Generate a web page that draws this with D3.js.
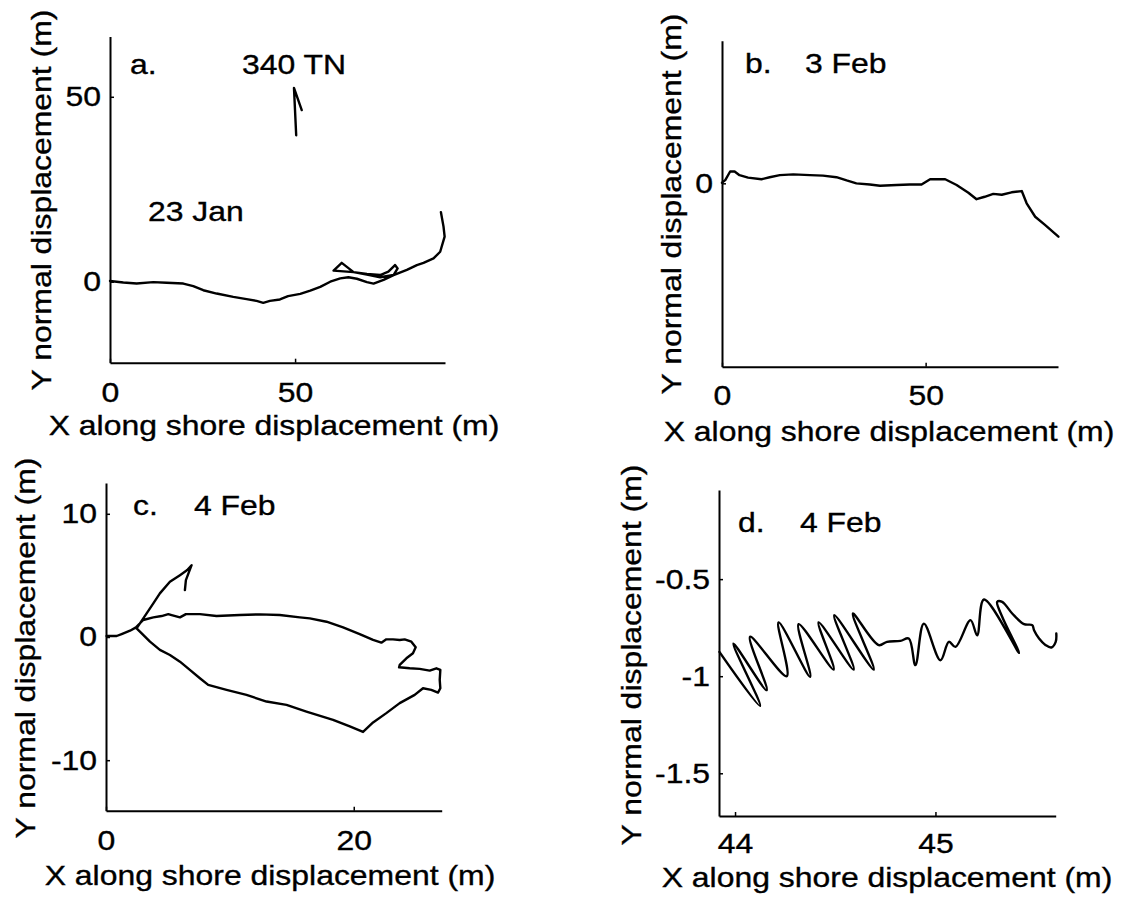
<!DOCTYPE html>
<html>
<head>
<meta charset="utf-8">
<script src="https://cdn.jsdelivr.net/npm/d3@7"></script>
<style>
  html, body { margin: 0; padding: 0; background: #fff; }
  svg { display: block; }
  text { font-family: "Liberation Sans", Arial, Helvetica, sans-serif; font-size: 28px; fill: #000;
         stroke: #000; stroke-width: 0.35px; }
</style>
</head>
<body>
<svg id="fig" width="1128" height="897"></svg>
<script>
// ---- Panel a: 23 Jan drifter track (m) ----
const aX = [0,3.6,7.2,11.7,15.3,19.8,22.5,25.2,28.8,33.3,36.9,39.6,41.4,43.2,45.9,48.1,51.4,54.1,56.8,59.5,
            62.2,64.4,66.7,69.4,71.2,73.9,76.6,77.7,77.0,75.2,73.0,69.4,65.8,62.6,60.4,65.8,69.4,73.0,76.6,80.2,
            82.9,84.7,87.4,89.2,90.4,90.1,89.4];
const aY = [0.2,-0.2,-0.5,-0.1,-0.3,-0.5,-1.2,-2.3,-3.2,-4.1,-4.7,-5.2,-5.7,-5.2,-4.8,-3.9,-3.3,-2.4,-1.4,0,
            0.9,1.2,0.8,-0.1,-0.5,0.5,1.8,3.6,4.5,2.7,1.8,2.1,2.6,5.1,3.0,2.6,1.9,1.2,1.8,3.2,
            4.5,5.1,6.3,8.1,12.2,14.9,18.8];
// north arrow (340 TN)
const arrowX = [50.3, 49.7, 51.8];
const arrowY = [39.6, 52.4, 46.4];

// ---- Panel b: 3 Feb ----
const bX = [0,0.8,2.0,3.1,4.3,6.4,9.7,11.7,14.2,17.5,21.6,24.8,28.1,30.6,33.0,36.3,38.8,42.9,46.1,49.0,
            51.1,54.8,57.6,60.5,62.5,64.5,66.6,68.7,71.1,73.6,74.8,76.9,79.3,82.6];
const bY = [0.16,0.8,2.9,2.9,2.0,1.4,1.0,1.5,2.0,2.2,2.0,1.9,1.5,0.7,0,-0.3,-0.6,-0.4,-0.3,-0.3,
            1.0,1.0,-0.4,-2.3,-3.9,-3.3,-2.6,-2.8,-2.2,-1.9,-4.9,-8.2,-10.2,-13.1];

// ---- Panel c: 4 Feb ----
const cX = [0.05,0.86,1.26,1.94,2.42,
            3.0,3.82,4.49,5.03,5.3,5.97,6.45,7.58,8.92,10.8,12.42,14.03,15.65,16.45,17.8,19.14,20.48,21.56,22.23,22.63,
            23.17,23.71,24.11,24.65,25.0,24.78,24.25,23.71,23.66,24.52,25.32,26.13,26.67,26.99,26.94,26.99,26.8,26.26,25.59,24.92,
            23.71,22.63,21.56,20.75,19.68,18.33,16.18,14.57,12.96,11.34,9.73,8.25,7.58,6.77,5.97,5.16,4.35,3.55,2.88,2.47,
            3.28,3.82,4.35,5.16,5.97,6.56,6.91,6.45,6.37];
const cY = [0.08,0.08,0.24,0.51,0.78,
            1.38,1.59,1.70,1.86,1.78,1.59,1.86,1.86,1.70,1.78,1.84,1.78,1.59,1.51,1.24,0.78,0.24,-0.24,-0.46,-0.19,
            -0.19,-0.24,-0.19,-0.38,-0.84,-1.32,-1.73,-2.27,-2.46,-2.54,-2.59,-2.73,-2.54,-2.67,-3.48,-4.16,-4.51,-4.29,-4.16,-4.70,
            -5.37,-6.18,-6.94,-7.71,-7.26,-6.72,-6.05,-5.51,-5.24,-4.70,-4.29,-3.89,-3.35,-2.67,-2.0,-1.46,-1.05,-0.38,0.30,0.70,
            1.92,2.73,3.54,4.48,5.02,5.43,5.83,4.62,3.81];

// ---- Panel d: 4 Feb, detail ----
const dX = [43.922,44.125,43.992,44.158,44.075,44.258,44.217,44.375,44.317,44.492,44.417,44.592,44.495,44.692,44.588,
            44.717,44.758,44.825,44.867,44.900,44.942,45.025,45.067,45.100,45.175,45.208,45.242,45.417,45.333,45.308,
            45.333,45.383,45.442,45.483,45.492,45.517,45.550,45.578,45.600,45.603];
const dY = [-0.875,-1.153,-0.832,-1.072,-0.797,-1.000,-0.723,-1.003,-0.732,-0.966,-0.723,-0.966,-0.686,-0.966,-0.677,
            -0.840,-0.823,-0.818,-0.806,-0.943,-0.729,-0.918,-0.823,-0.849,-0.711,-0.789,-0.605,-0.880,-0.694,-0.617,
            -0.617,-0.677,-0.732,-0.737,-0.763,-0.806,-0.840,-0.852,-0.823,-0.780];

// ---- tick values and labels ----
const ticksAx = [0, 50],   labelsAx = ["0", "50"];
const ticksAy = [0, 50],   labelsAy = ["0", "50"];
const ticksBx = [0, 50],   labelsBx = ["0", "50"];
const ticksBy = [0],       labelsBy = ["0"];
const ticksCx = [0, 20],   labelsCx = ["0", "20"];
const ticksCy = [-10, 0, 10], labelsCy = ["-10", "0", "10"];
const ticksDx = [44, 45],  labelsDx = ["44", "45"];
const ticksDy = [-1.5, -1, -0.5], labelsDy = ["-1.5", "-1", "-0.5"];

const xTitle = "X along shore displacement (m)";
const yTitle = "Y normal displacement (m)";

const svg = d3.select("#fig");
svg.append("rect").attr("width", 1128).attr("height", 897).attr("fill", "#fff");

function addText(g, str, x, y, anchor, rot) {
  const t = g.append("text").text(str).attr("text-anchor", anchor || "start");
  if (rot) t.attr("transform", `translate(${x},${y}) rotate(${rot})`);
  else t.attr("x", x).attr("y", y);
  return t;
}

function panel(cfg) {
  const x = d3.scaleLinear().domain(cfg.xDomain).range(cfg.xRange);
  const y = d3.scaleLinear().domain(cfg.yDomain).range(cfg.yRange);
  const g = svg.append("g");

  const ax = g.append("g")
    .attr("transform", `translate(0,${cfg.yRange[0]})`)
    .call(d3.axisBottom(x).tickValues(cfg.xTicks)
      .tickFormat((d, i) => cfg.xLabels[i])
      .tickSizeInner(-4).tickSizeOuter(0).tickPadding(cfg.xPad));
  const ay = g.append("g")
    .attr("transform", `translate(${cfg.xRange[0]},0)`)
    .call(d3.axisLeft(y).tickValues(cfg.yTicks)
      .tickFormat((d, i) => cfg.yLabels[i])
      .tickSizeInner(-4).tickSizeOuter(0).tickPadding(9));
  [ax, ay].forEach(a => {
    a.attr("font-size", null).attr("font-family", null);
    a.select(".domain").attr("stroke", "#000").attr("stroke-width", 2);
    a.selectAll(".tick line").attr("stroke", "#000").attr("stroke-width", 1.5);
  });

  const line = d3.line().x(d => x(d[0])).y(d => y(d[1])).curve(cfg.curve || d3.curveLinear);
  cfg.series.forEach(s => {
    g.append("path")
      .datum(s[0].map((v, i) => [v, s[1][i]]))
      .attr("d", line)
      .attr("fill", "none").attr("stroke", "#000").attr("stroke-width", 2.4)
      .attr("stroke-linejoin", "round").attr("stroke-linecap", "round");
  });

  cfg.notes.forEach(n => addText(g, n[0], n[1], n[2], "start"));
  addText(g, xTitle, cfg.xTitle[0], cfg.xTitle[1], "middle");
  addText(g, yTitle, cfg.yTitle[0], cfg.yTitle[1], "middle", -90);
}

panel({
  xDomain: [0, 90.5], xRange: [110, 445],
  yDomain: [-21.9, 66.3], yRange: [362.7, 36.5],
  xTicks: ticksAx, xLabels: labelsAx, yTicks: ticksAy, yLabels: labelsAy, xPad: 19,
  series: [[aX, aY], [arrowX, arrowY]],
  notes: [["a.", 130, 74], ["340 TN", 242, 74], ["23 Jan", 148, 221]],
  xTitle: [274, 435], yTitle: [51, 200]
});

panel({
  xDomain: [0, 82.5], xRange: [722, 1058],
  yDomain: [-45, 35], yRange: [366.7, 40.7],
  xTicks: ticksBx, xLabels: labelsBx, yTicks: ticksBy, yLabels: labelsBy, xPad: 18,
  series: [[bX, bY]],
  notes: [["b.", 745, 73], ["3 Feb", 805, 73]],
  xTitle: [889, 441], yTitle: [681, 204]
});

panel({
  xDomain: [0, 27.1], xRange: [106, 441.7],
  yDomain: [-14.1, 12.5], yRange: [810.7, 483],
  xTicks: ticksCx, xLabels: labelsCx, yTicks: ticksCy, yLabels: labelsCy, xPad: 19,
  series: [[cX, cY]],
  notes: [["c.", 133, 515], ["4 Feb", 194, 515]],
  xTitle: [270, 885], yTitle: [35, 648]
});

panel({
  xDomain: [43.92, 45.60], xRange: [719, 1055.7],
  yDomain: [-1.72, -0.041], yRange: [816, 490],
  xTicks: ticksDx, xLabels: labelsDx, yTicks: ticksDy, yLabels: labelsDy, xPad: 17,
  series: [[dX, dY]], curve: d3.curveCatmullRom.alpha(0.5),
  notes: [["d.", 738, 532], ["4 Feb", 800, 532]],
  xTitle: [887, 887], yTitle: [641, 655]
});

// the lettering is a wide sans: stretch glyphs along the baseline
svg.selectAll("text").each(function () {
  const w = this.getComputedTextLength();
  this.setAttribute("textLength", (w * 1.14).toFixed(1));
  this.setAttribute("lengthAdjust", "spacingAndGlyphs");
});
</script>
</body>
</html>
